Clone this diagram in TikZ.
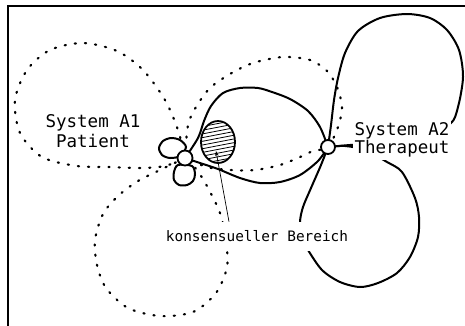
\documentclass[tikz,border=0pt]{standalone}
\usepackage{fontspec}
\setmonofont{DejaVu Sans Mono}
\usetikzlibrary{shapes.geometric,arrows.meta}
\pgfdeclarelayer{dots}
\pgfdeclarelayer{lines}
\pgfsetlayers{dots,lines,main}
\begin{document}
\begin{tikzpicture}[x=1pt,y=-1pt,
  solidline/.style={line width=2pt, line join=round, line cap=round},
  dotline/.style={line width=2.2pt, dash pattern=on 1.2pt off 9pt, line cap=round},
  knot/.style={circle, draw, line width=1.8pt, fill=white, inner sep=0pt, minimum size=15pt},
  petal/.style={draw, line width=2pt, fill=white},
  lbl/.style={font=\ttfamily\fontsize{17.5}{20}\selectfont, align=center, inner sep=1pt},
  klbl/.style={font=\ttfamily\fontsize{14.4}{16}\selectfont, fill=white, inner xsep=2pt, inner ysep=9pt},
  hatched/.style={ellipse, draw, line width=1.8pt, fill=white, minimum width=34pt, minimum height=42pt, inner sep=0pt,
    path picture={\foreach \k in {-7,...,7}
      \draw[line width=0.8pt] ([shift={(-26,\k*3.7+5)}]path picture bounding box.center)
        -- ([shift={(26,\k*3.7-5)}]path picture bounding box.center);}},
  frameline/.style={line width=2pt}]
\useasboundingbox (0,0) rectangle (465,325);
% frame
\draw[frameline] (8.3,326) -- (8.3,6) -- (466,6);

% consensual area
\node[hatched] (H) at (218,142) {};
\coordinate (hp) at (216,151);

% petals of the patient knot
\draw[petal] plot[smooth cycle] coordinates {(180,156) (170,158) (162,155) (159,148) (163,141) (171,138) (180,140) (186,147)};
\draw[petal] plot[smooth cycle] coordinates {(178,165) (174,172) (174,180) (179,185) (187,185) (193,181) (195,174) (192,166)};

% knots
\node[knot] (P) at (185,158) {};
\node[knot, minimum size=14pt] (T) at (328,147) {};

% labels
\node[lbl] (A1) at (93,131) {System A1\\Patient};
\node[lbl, fill=white, inner sep=2pt, font=\ttfamily\fontsize{17.5}{18.5}\selectfont] (A2) at (402,140) {System A2\\Therapeut};
\node[klbl] (K) at (257,236.5) {konsensueller Bereich};

% pointer
\draw[line width=0.7pt, -{Stealth[length=5pt,width=3.5pt]}] ([xshift=-28pt]K.north) -- (hp);

% patient loops (dotted)
\begin{pgfonlayer}{dots}
\draw[dotline] plot[smooth] coordinates {(P.center) (178,130) (165,100) (143,70) (117,51) (83,43) (50,50) (27,70) (15,100) (20,133) (42,157) (77,166) (110,167) (140,168) (165,166) (P.center)};
\draw[dotline] plot[smooth] coordinates {(P.center) (160,170) (138,181) (118,196) (103,214) (95,240) (97,265) (106,288) (128,308) (160,316) (193,312) (216,293) (227,267) (226,240) (220,213) (208,188) (197,170) (P.center)};
\draw[dotline] plot[smooth] coordinates {(P.center) (188,125) (196,107) (210,88) (230,74) (253,63) (283,57) (310,60) (327,71) (337,87) (342,107) (338,127) (T.center) (313,151) (300,157) (280,165) (255,170) (230,170) (207,167) (P.center)};
\end{pgfonlayer}

% therapist loops (solid)
\begin{pgfonlayer}{lines}
\draw[solidline] plot[smooth] coordinates {(T.center) (320,127) (308,111) (290,99) (272,92) (258,88) (240,88) (223,93) (211,106) (204,121) (198,138) (P.center)};
\draw[solidline] plot[smooth] coordinates {(P.center) (200,163) (218,169) (240,178) (260,183) (280,182) (300,175) (318,161) (T.center)};
\draw[solidline] plot[smooth] coordinates {(T.center) (331,125) (334,100) (338,78) (345,53) (358,31) (380,18) (407,14) (430,18) (447,30) (459,50) (463,77) (458,107) (450,124) (420,136) (380,143) (350,145) (T.center)};
\draw[solidline] plot[smooth] coordinates {(T.center) (321,165) (311,188) (303,207) (300,222) (302,238) (308,250) (322,270) (340,282) (360,287) (378,283) (397,273) (410,257) (418,237) (419,217) (415,198) (402,172) (387,162) (365,150) (345,146) (T.center)};
\end{pgfonlayer}
\end{tikzpicture}
\end{document}
